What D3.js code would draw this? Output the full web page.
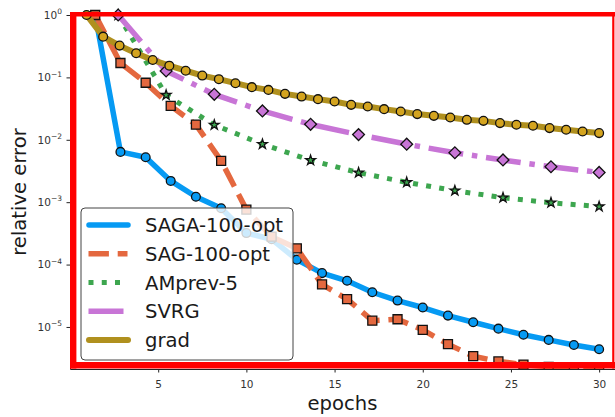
<!DOCTYPE html>
<html>
<head>
<meta charset="utf-8">
<script src="https://cdn.jsdelivr.net/npm/d3@7"></script>
<style>
  body { margin: 0; background: #fff; }
  text { font-family: "DejaVu Sans", sans-serif; }
</style>
</head>
<body>
<svg id="chart" width="615" height="417"></svg>
<script>
// epochs at which each method was sampled
var epochsFast = [1.43, 2.86, 4.29, 5.71, 7.14, 8.57, 10, 11.43, 12.86, 14.29, 15.71,
    17.14, 18.57, 20, 21.43, 22.86, 24.29, 25.71, 27.14, 28.57, 30];
var epochsSlow = [2.73, 5.45, 8.18, 10.91, 13.64, 16.36, 19.09, 21.82, 24.55, 27.27, 30];
var epochsGrad = [0.94, 1.88, 2.81, 3.75, 4.69, 5.63, 6.56, 7.5, 8.44, 9.38, 10.31, 11.25,
    12.19, 13.13, 14.06, 15, 15.94, 16.88, 17.81, 18.75, 19.69, 20.63, 21.56, 22.5,
    23.44, 24.38, 25.31, 26.25, 27.19, 28.13, 29.06, 30];

// relative error values
var sagaErr = [1.0, 6.4e-3, 5.25e-3, 2.19e-3, 1.22e-3, 8.0e-4, 3.2e-4, 2.55e-4, 1.2e-4, 7.3e-5,
    5.5e-5, 3.6e-5, 2.65e-5, 2.05e-5, 1.52e-5, 1.19e-5, 9.4e-6, 7.5e-6, 6.2e-6, 5.15e-6, 4.4e-6];
var sagErr = [1.0, 0.17, 0.082, 0.035, 0.0175, 4.6e-3, 7.6e-4, 2.8e-4, 1.82e-4, 4.8e-5, 2.8e-5,
    1.26e-5, 1.33e-5, 9.0e-6, 5.3e-6, 3.4e-6, 2.8e-6, 2.5e-6, 2.3e-6, 2.2e-6, 2.1e-6];
var amprevErr = [1.0, 0.052, 0.0173, 8.5e-3, 4.7e-3, 2.97e-3, 2.08e-3, 1.53e-3, 1.18e-3, 9.8e-4, 8.5e-4];
var svrgErr = [1.0, 0.127, 0.0536, 0.029, 0.0177, 0.0121, 8.5e-3, 6.2e-3, 4.75e-3, 3.7e-3, 3.0e-3];
var gradErr = [1.0, 0.45, 0.323, 0.244, 0.19, 0.154, 0.128, 0.107, 0.0936, 0.0807, 0.0697, 0.063,
    0.0545, 0.0493, 0.0448, 0.041, 0.0363, 0.0341, 0.031, 0.0284, 0.0258, 0.0242, 0.0228,
    0.0209, 0.0201, 0.0185, 0.0174, 0.0168, 0.0154, 0.0145, 0.0136, 0.0128];

var legendNames = ["SAGA-100-opt", "SAG-100-opt", "AMprev-5", "SVRG", "grad"];
var xTicks = [5, 10, 15, 20, 25, 30];
var yTickExp = [0, -1, -2, -3, -4, -5];

var svg = d3.select("#chart");
var plotLeft = 70, plotRight = 615, plotTop = 15, plotBottom = 369;

var x = d3.scaleLinear().domain([0, 30.9]).range([plotLeft, plotRight]);
var y = d3.scaleLog().domain([2.12e-6, 1]).range([plotBottom, plotTop]);

svg.append("rect").attr("width", 615).attr("height", 417).attr("fill", "#fff");

svg.append("defs").append("clipPath").attr("id", "clip")
    .append("rect")
    .attr("x", plotLeft).attr("y", 0)
    .attr("width", plotRight - plotLeft).attr("height", plotBottom);

// axes
var xAxis = svg.append("g")
    .attr("transform", "translate(0," + plotBottom + ")")
    .call(d3.axisBottom(x).tickValues(xTicks).tickSize(3.5).tickSizeOuter(0));
xAxis.selectAll("text")
    .attr("dy", null).attr("y", 18.5)
    .style("font-size", "10.5px").attr("fill", "#333");

var yAxis = svg.append("g")
    .attr("transform", "translate(" + plotLeft + ",0)")
    .call(d3.axisLeft(y).tickValues(yTickExp.map(function (e) { return Math.pow(10, e); }))
        .tickFormat("").tickSize(3.5).tickSizeOuter(0));
svg.selectAll(".domain").attr("stroke", "#222");
svg.selectAll(".tick line").attr("stroke", "#222");

yTickExp.forEach(function (e) {
    var t = svg.append("text")
        .attr("x", 62).attr("y", y(Math.pow(10, e)) + 3.8)
        .attr("text-anchor", "end")
        .style("font-size", "10.5px").attr("fill", "#333");
    t.append("tspan").text("10");
    t.append("tspan").attr("dy", -4.6).style("font-size", "7.5px")
        .text(e == 0 ? "0" : "\u2212" + (-e));
});

svg.append("text")
    .attr("transform", "translate(25.5," + ((plotTop + plotBottom) / 2) + ") rotate(-90)")
    .attr("text-anchor", "middle")
    .style("font-size", "19.6px").attr("fill", "#1a1a1a")
    .text("relative error");

svg.append("text")
    .attr("x", (plotLeft + plotRight) / 2).attr("y", 410)
    .attr("text-anchor", "middle")
    .style("font-size", "19.6px").attr("fill", "#1a1a1a")
    .text("epochs");

// series
var series = [
    { xs: epochsFast, ys: sagaErr, color: "#069af3", width: 5.5, dash: null, cap: "round",
        marker: "circle", fill: "#069af3" },
    { xs: epochsFast, ys: sagErr, color: "#e4683f", width: 5.5, dash: "20.4,8.8", cap: "butt",
        marker: "square", fill: "#e4683f" },
    { xs: epochsSlow, ys: amprevErr, color: "#3da64f", width: 5, dash: "5,8.25", cap: "butt",
        marker: "star", fill: "#3da64f" },
    { xs: epochsSlow, ys: svrgErr, color: "#c875d6", width: 5.5, dash: "35,8.8,5.5,8.8", cap: "butt",
        marker: "diamond", fill: "#c875d6" },
    { xs: epochsGrad, ys: gradErr, color: "#b0901e", width: 6, dash: null, cap: "round",
        marker: "circle", fill: "#d4a41f" }
];

var plot = svg.append("g").attr("clip-path", "url(#clip)");
var line = d3.line()
    .x(function (d) { return x(d[0]); })
    .y(function (d) { return y(d[1]); });

series.forEach(function (s) {
    var pts = s.xs.map(function (v, i) { return [v, s.ys[i]]; });
    plot.append("path")
        .datum(pts)
        .attr("d", line)
        .attr("fill", "none")
        .attr("stroke", s.color)
        .attr("stroke-width", s.width)
        .attr("stroke-linecap", s.cap)
        .attr("stroke-linejoin", "round")
        .attr("stroke-dasharray", s.dash);

    var sym;
    if (s.marker == "square") sym = d3.symbol().type(d3.symbolSquare).size(81);
    if (s.marker == "star") sym = d3.symbol().type(d3.symbolStar).size(30);
    if (s.marker == "diamond") sym = d3.symbol().type(d3.symbolSquare).size(70);

    var g = plot.append("g");
    if (s.marker == "circle") {
        g.selectAll("circle").data(pts).enter().append("circle")
            .attr("cx", function (d) { return x(d[0]); })
            .attr("cy", function (d) { return y(d[1]); })
            .attr("r", 4.4)
            .attr("fill", s.fill).attr("stroke", "#111").attr("stroke-width", 1.3);
    } else {
        g.selectAll("path").data(pts).enter().append("path")
            .attr("d", sym)
            .attr("transform", function (d) {
                return "translate(" + x(d[0]) + "," + y(d[1]) + ")" +
                    (s.marker == "diamond" ? " rotate(45)" : "");
            })
            .attr("fill", s.fill).attr("stroke", "#111").attr("stroke-width", 1.3);
    }
});

// legend
var legend = svg.append("g");
legend.append("rect")
    .attr("x", 81).attr("y", 208).attr("width", 212).attr("height", 152)
    .attr("rx", 4)
    .attr("fill", "#fff").attr("fill-opacity", 0.8)
    .attr("stroke", "#444").attr("stroke-width", 1);

legendNames.forEach(function (name, i) {
    var s = series[i];
    var cy = 225 + i * 28.75;
    legend.append("line")
        .attr("x1", s.cap == "round" ? 89 : 88.5).attr("x2", s.cap == "round" ? 128 : 127.5)
        .attr("y1", cy).attr("y2", cy)
        .attr("stroke", s.color).attr("stroke-width", s.width)
        .attr("stroke-linecap", s.cap)
        .attr("stroke-dasharray", s.dash);
    legend.append("text")
        .attr("x", 145).attr("y", cy + 7)
        .style("font-size", "19.6px").attr("fill", "#1a1a1a")
        .text(name);
});

// red highlight frame
var frame = svg.append("g").attr("stroke", "#ff0000").attr("fill", "none");
frame.append("line").attr("x1", 70).attr("x2", 615).attr("y1", 14.2).attr("y2", 14.2).attr("stroke-width", 4.6);
frame.append("line").attr("x1", 70).attr("x2", 615).attr("y1", 365.2).attr("y2", 365.2).attr("stroke-width", 6.4);
frame.append("line").attr("x1", 73.2).attr("x2", 73.2).attr("y1", 12).attr("y2", 368.4).attr("stroke-width", 6.4);
frame.append("line").attr("x1", 613.3).attr("x2", 613.3).attr("y1", 12).attr("y2", 368.4).attr("stroke-width", 2.2);
</script>
</body>
</html>
